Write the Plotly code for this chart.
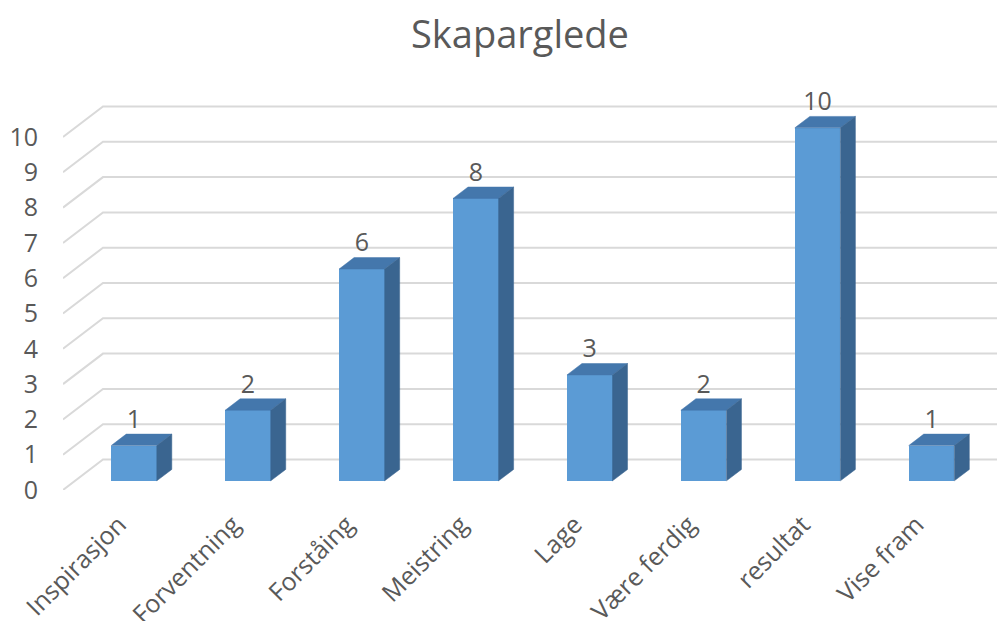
import plotly.graph_objects as go

categories = ["Inspirasjon", "Forventning", "Forståing", "Meistring",
              "Lage", "Være ferdig", "resultat", "Vise fram"]
values = [1, 2, 6, 8, 3, 2, 10, 1]
y_ticks = list(range(0, 11))

# fake 3D: depth of the floor/walls expressed in axis units
DX, DY = 0.351, 0.864
BAR_W = 0.4
FRONT = 0.3     # where the bar front sits, as share of wall depth
DEPTH = 0.375   # bar depth, as share of wall depth
X0, X1 = -0.518, 7.75

FONT = "Open Sans"
GREY = "#595959"

fig = go.Figure()

# gridlines: slanted piece on the side wall + flat line on the back wall
for v in y_ticks:
    fig.add_shape(
        type="path", xref="x", yref="y", layer="below",
        path=f"M {X0},{v} L {X0 + DX},{v + DY} L {X1},{v + DY}",
        line=dict(color="#D9D9D9", width=2))

xs = [i + FRONT * DX for i in range(len(values))]
base = FRONT * DY
bx, by = DEPTH * DX, DEPTH * DY

# front faces
fig.add_trace(go.Bar(
    x=xs, y=values, base=base, width=BAR_W,
    marker=dict(color="#5B9BD5", line=dict(width=0)),
    hoverinfo="skip", showlegend=False))

# top and side faces
for x, v in zip(xs, values):
    l, r, t = x - BAR_W / 2, x + BAR_W / 2, base + v
    fig.add_trace(go.Scatter(
        x=[l, r, r + bx, l + bx, l], y=[t, t, t + by, t + by, t],
        mode="lines", fill="toself", fillcolor="#4477AC",
        line=dict(color="#4477AC", width=0.5),
        hoverinfo="skip", showlegend=False))
    fig.add_trace(go.Scatter(
        x=[r, r + bx, r + bx, r, r], y=[base, base + by, t + by, t, base],
        mode="lines", fill="toself", fillcolor="#3A6590",
        line=dict(color="#3A6590", width=0.5),
        hoverinfo="skip", showlegend=False))

# data labels
fig.add_trace(go.Scatter(
    x=xs, y=[base + v + by for v in values],
    mode="text", text=[str(v) for v in values], textposition="top center",
    textfont=dict(family=FONT, size=25, color=GREY),
    cliponaxis=False, hoverinfo="skip", showlegend=False))

# page body has an 8px margin, so the figure is sized/shifted for it
fig.update_layout(
    width=997, height=613,
    margin=dict(l=55, r=0, t=72, b=131),
    paper_bgcolor="white", plot_bgcolor="white",
    font=dict(family=FONT, color=GREY),
    title=dict(text="Skaparglede", x=0.5135, xref="container", xanchor="center",
               y=0.956, yanchor="middle",
               font=dict(family=FONT, size=38, color=GREY)),
    bargap=0,
)
fig.update_xaxes(
    range=[X0, X1], tickvals=list(range(len(categories))), ticktext=categories,
    tickangle=-45, tickfont=dict(family=FONT, size=25, color=GREY),
    ticklabelstandoff=14, ticklabelshift=-3,
    showgrid=False, zeroline=False, showline=False, ticks="", automargin=False)
fig.update_yaxes(
    range=[0, 11.615], tickvals=y_ticks,
    tickfont=dict(family=FONT, size=25, color=GREY), ticklabelstandoff=24,
    showgrid=False, zeroline=False, showline=False, ticks="", automargin=False)

fig.write_html("out.html")
